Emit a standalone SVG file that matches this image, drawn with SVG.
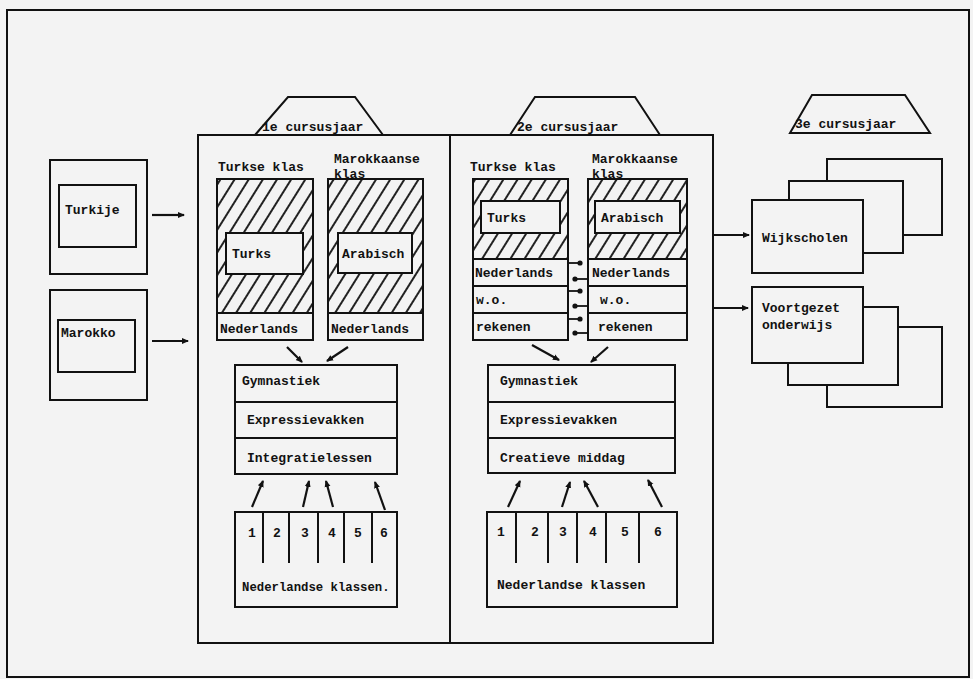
<svg xmlns="http://www.w3.org/2000/svg" width="973" height="679" viewBox="0 0 973 679">
<defs>
<style>
.bg{fill:#f3f3f3}
.box{fill:#f3f3f3;stroke:#111;stroke-width:2}
.ln{fill:none;stroke:#111;stroke-width:2}
.t{font-family:"Liberation Mono","DejaVu Sans Mono",monospace;font-weight:bold;font-size:13px;fill:#111}
.n{font-family:"Liberation Mono","DejaVu Sans Mono",monospace;font-weight:bold;font-size:13px;fill:#111;text-anchor:middle}
.hatch{fill:url(#hatch);stroke:#111;stroke-width:2}
.ar{fill:none;stroke:#111;stroke-width:2.2;marker-end:url(#ah)}
.dt{fill:none;stroke:#111;stroke-width:1.8;marker-end:url(#dot)}
</style>
<pattern id="hatch" width="12" height="12" patternUnits="userSpaceOnUse" patternTransform="rotate(32)">
<rect width="12" height="12" fill="#f3f3f3"/>
<line x1="6" y1="0" x2="6" y2="12" stroke="#222" stroke-width="2"/>
</pattern>
<marker id="ah" viewBox="0 0 8 8" refX="6" refY="4" markerWidth="8" markerHeight="8" markerUnits="userSpaceOnUse" orient="auto">
<path d="M0,1 L7,4 L0,7 z" fill="#111"/>
</marker>
<marker id="dot" viewBox="0 0 6 6" refX="3" refY="3" markerWidth="6" markerHeight="6" markerUnits="userSpaceOnUse" orient="auto">
<circle cx="3" cy="3" r="2.6" fill="#111"/>
</marker>
</defs>

<rect class="bg" x="0" y="0" width="973" height="679"/>
<g id="frame"><rect class="ln" x="7" y="10" width="962" height="667"/></g>

<g id="turkije">
<rect class="box" x="50" y="160" width="97" height="114"/>
<rect class="box" x="59" y="185" width="77" height="62"/>
<text class="t" x="65" y="214">Turkije</text>
</g>
<g id="marokko">
<rect class="box" x="50" y="290" width="97" height="110"/>
<rect class="box" x="58" y="320" width="77" height="52"/>
<text class="t" x="61" y="337">Marokko</text>
</g>

<g id="jaar1-label">
<path class="box" d="M255,135 L288,97 L355,97 L383,135"/>
</g>
<g id="jaar2-label">
<path class="box" d="M510,135 L535,97 L635,97 L660,135"/>
</g>
<g id="cursus">
<rect class="box" x="198" y="135" width="515" height="508"/>
<line class="ln" x1="450" y1="135" x2="450" y2="643"/>
<text class="t" x="262" y="131">1e cursusjaar</text>
<text class="t" x="517" y="131">2e cursusjaar</text>
</g>

<g id="turkse-klas-1">
<text class="t" x="218" y="171">Turkse klas</text>
<rect class="box" x="217" y="179" width="96" height="161"/>
<rect class="hatch" x="217" y="179" width="96" height="134"/>
<rect class="box" x="226" y="233" width="77" height="41"/>
<text class="t" x="232" y="258">Turks</text>
<text class="t" x="220" y="333">Nederlands</text>
</g>
<g id="marokkaanse-klas-1">
<text class="t" x="334" y="163">Marokkaanse</text>
<text class="t" x="334" y="178">klas</text>
<rect class="box" x="328" y="179" width="95" height="161"/>
<rect class="hatch" x="328" y="179" width="95" height="134"/>
<rect class="box" x="338" y="233" width="74" height="40"/>
<text class="t" x="342" y="258">Arabisch</text>
<text class="t" x="331" y="333">Nederlands</text>
</g>

<g id="turkse-klas-2">
<text class="t" x="470" y="171">Turkse klas</text>
<rect class="box" x="473" y="179" width="95" height="161"/>
<rect class="hatch" x="473" y="179" width="95" height="80"/>
<rect class="box" x="481" y="201" width="79" height="32"/>
<text class="t" x="487" y="222">Turks</text>
<line class="ln" x1="473" y1="286" x2="568" y2="286"/>
<line class="ln" x1="473" y1="313" x2="568" y2="313"/>
<text class="t" x="475" y="277">Nederlands</text>
<text class="t" x="476" y="304">w.o.</text>
<text class="t" x="476" y="331">rekenen</text>
</g>
<g id="marokkaanse-klas-2">
<text class="t" x="592" y="163">Marokkaanse</text>
<text class="t" x="592" y="178">klas</text>
<rect class="box" x="588" y="179" width="99" height="161"/>
<rect class="hatch" x="588" y="179" width="99" height="80"/>
<rect class="box" x="595" y="201" width="85" height="32"/>
<text class="t" x="601" y="222">Arabisch</text>
<line class="ln" x1="588" y1="286" x2="687" y2="286"/>
<line class="ln" x1="588" y1="313" x2="687" y2="313"/>
<text class="t" x="592" y="277">Nederlands</text>
<text class="t" x="600" y="304">w.o.</text>
<text class="t" x="598" y="331">rekenen</text>
</g>

<g id="vakken-1">
<rect class="box" x="235" y="365" width="162" height="109"/>
<line class="ln" x1="235" y1="402" x2="397" y2="402"/>
<line class="ln" x1="235" y1="438" x2="397" y2="438"/>
<text class="t" x="242" y="385">Gymnastiek</text>
<text class="t" x="247" y="424">Expressievakken</text>
<text class="t" x="247" y="462">Integratielessen</text>
</g>
<g id="vakken-2">
<rect class="box" x="488" y="365" width="187" height="108"/>
<line class="ln" x1="488" y1="402" x2="675" y2="402"/>
<line class="ln" x1="488" y1="438" x2="675" y2="438"/>
<text class="t" x="500" y="385">Gymnastiek</text>
<text class="t" x="500" y="424">Expressievakken</text>
<text class="t" x="500" y="462">Creatieve middag</text>
</g>

<g id="nederlandse-klassen-1">
<rect class="box" x="235" y="512" width="162" height="95"/>
<path class="ln" d="M263,512 V563 M289,512 V563 M318,512 V563 M344,512 V563 M372,512 V563"/>
<text class="n" x="252" y="537">1</text>
<text class="n" x="277" y="537">2</text>
<text class="n" x="305" y="537">3</text>
<text class="n" x="332" y="537">4</text>
<text class="n" x="358" y="537">5</text>
<text class="n" x="384" y="537">6</text>
<text class="t" x="242" y="591" style="font-size:12.3px">Nederlandse klassen.</text>
</g>
<g id="nederlandse-klassen-2">
<rect class="box" x="487" y="512" width="190" height="95"/>
<path class="ln" d="M516,512 V563 M548,512 V563 M577,512 V563 M606,512 V563 M639,512 V563"/>
<text class="n" x="501" y="536">1</text>
<text class="n" x="535" y="536">2</text>
<text class="n" x="563" y="536">3</text>
<text class="n" x="593" y="536">4</text>
<text class="n" x="625" y="536">5</text>
<text class="n" x="658" y="536">6</text>
<text class="t" x="497" y="589">Nederlandse klassen</text>
</g>

<g id="jaar3-label">
<path class="box" d="M790,133 L812,95 L905,95 L930,133 Z"/>
<text class="t" x="795" y="128">3e cursusjaar</text>
</g>
<g id="wijkscholen">
<rect class="box" x="827" y="159" width="115" height="76"/>
<rect class="box" x="789" y="181" width="114" height="72"/>
<rect class="box" x="752" y="200" width="111" height="73"/>
<text class="t" x="762" y="242">Wijkscholen</text>
</g>
<g id="voortgezet">
<rect class="box" x="827" y="327" width="115" height="80"/>
<rect class="box" x="788" y="307" width="110" height="78"/>
<rect class="box" x="752" y="287" width="111" height="76"/>
<text class="t" x="762" y="312">Voortgezet</text>
<text class="t" x="762" y="329">onderwijs</text>
</g>

<g id="connectors">
<line class="ar" x1="152" y1="215" x2="184" y2="215"/>
<line class="ar" x1="152" y1="341" x2="188" y2="341"/>
<line class="ar" x1="287" y1="347" x2="302" y2="362"/>
<line class="ar" x1="348" y1="347" x2="327" y2="361"/>
<line class="ar" x1="532" y1="345" x2="559" y2="360"/>
<line class="ar" x1="608" y1="347" x2="591" y2="362"/>
<line class="ar" x1="252" y1="507" x2="263" y2="481"/>
<line class="ar" x1="303" y1="507" x2="309" y2="481"/>
<line class="ar" x1="333" y1="507" x2="326" y2="481"/>
<line class="ar" x1="385" y1="510" x2="375" y2="482"/>
<line class="ar" x1="508" y1="507" x2="520" y2="481"/>
<line class="ar" x1="562" y1="507" x2="570" y2="482"/>
<line class="ar" x1="598" y1="507" x2="584" y2="481"/>
<line class="ar" x1="662" y1="507" x2="648" y2="480"/>
<line class="ar" x1="713" y1="235" x2="749" y2="235"/>
<line class="ar" x1="713" y1="308" x2="748" y2="308"/>
<line class="dt" x1="568" y1="263" x2="580" y2="263"/>
<line class="dt" x1="588" y1="279" x2="575" y2="279"/>
<line class="dt" x1="568" y1="291" x2="580" y2="291"/>
<line class="dt" x1="588" y1="306" x2="575" y2="306"/>
<line class="dt" x1="568" y1="319" x2="580" y2="319"/>
<line class="dt" x1="588" y1="333" x2="575" y2="333"/>
</g>
</svg>
